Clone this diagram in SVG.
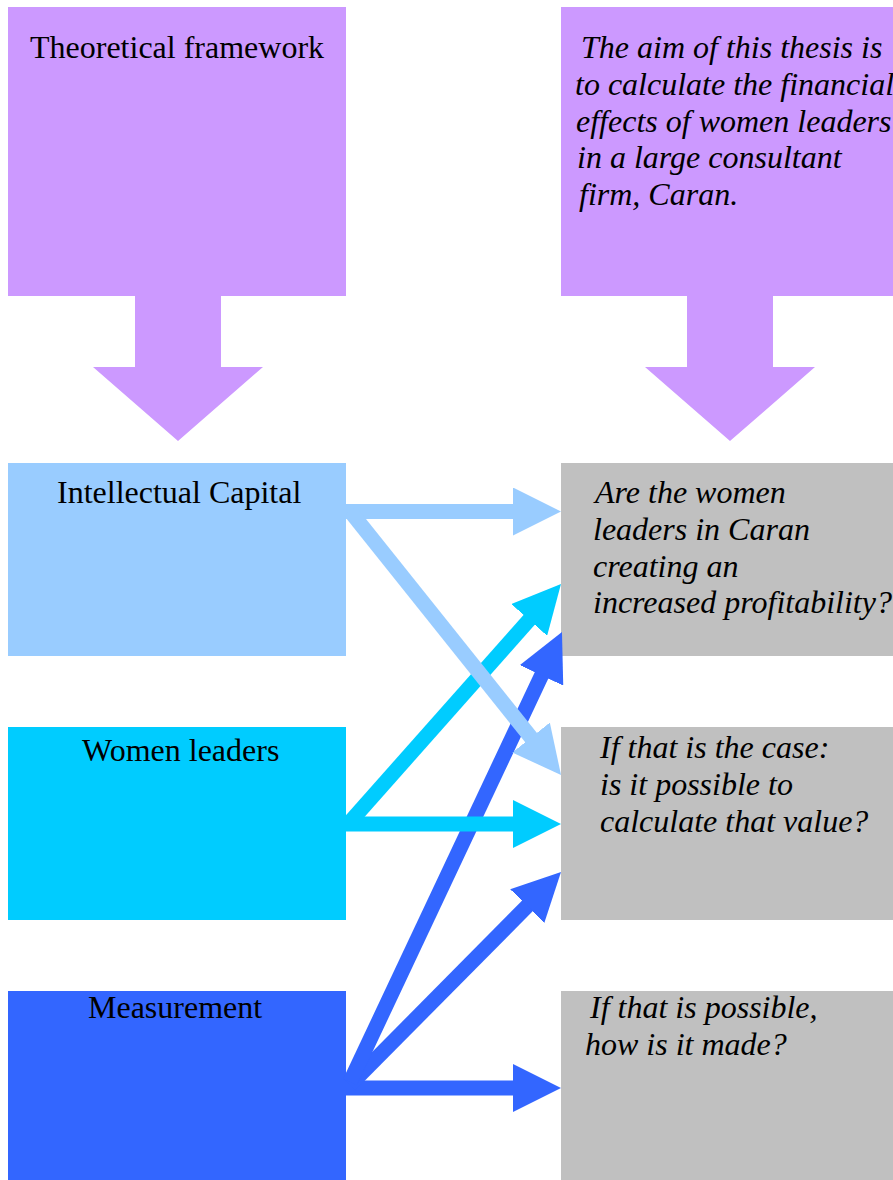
<svg xmlns="http://www.w3.org/2000/svg" width="893" height="1180" viewBox="0 0 893 1180">
  <style>
    .lbl { font-family: "Liberation Serif", "Times New Roman", serif; font-size: 32px; fill: #000; }
    .it { font-style: italic; }
    .purple { fill: #CC99FF; }
    .gray { fill: #C0C0C0; }
    .link { stroke-width: 15; fill: none; stroke-linecap: butt; }
  </style>
  <defs>
    <!-- triangular heads: 48 long, 48 wide; tip sits 30px past the line end -->
    <marker id="head-lb" markerUnits="userSpaceOnUse" markerWidth="48" markerHeight="48" viewBox="0 0 48 48" refX="18" refY="24" orient="auto">
      <path d="M0,0 L48,24 L0,48 Z" fill="#99CCFF"/>
    </marker>
    <marker id="head-cy" markerUnits="userSpaceOnUse" markerWidth="48" markerHeight="48" viewBox="0 0 48 48" refX="18" refY="24" orient="auto">
      <path d="M0,0 L48,24 L0,48 Z" fill="#00CCFF"/>
    </marker>
    <marker id="head-db" markerUnits="userSpaceOnUse" markerWidth="48" markerHeight="48" viewBox="0 0 48 48" refX="18" refY="24" orient="auto">
      <path d="M0,0 L48,24 L0,48 Z" fill="#3366FF"/>
    </marker>
  </defs>

  <rect width="893" height="1180" fill="#FFFFFF"/>

  <!-- top row: framework and aim, each with a block arrow pointing down -->
  <g id="theoretical-framework">
    <path class="purple" d="M8,7 H346 V296 H221 V367 H263 L178,441 L93,367 H135 V296 H8 Z"/>
    <text class="lbl" x="30" y="58">Theoretical framework</text>
  </g>

  <g id="thesis-aim">
    <path class="purple" d="M561,7 H893 V296 H773 V367 H815 L730,441 L645,367 H687 V296 H561 Z"/>
    <text class="lbl it" x="581" y="58">The aim of this thesis is</text>
    <text class="lbl it" x="575" y="95">to calculate the financial</text>
    <text class="lbl it" x="576" y="132">effects of women leaders</text>
    <text class="lbl it" x="577" y="168">in a large consultant</text>
    <text class="lbl it" x="579" y="205">firm, Caran.</text>
  </g>

  <!-- left column: inputs -->
  <g id="intellectual-capital">
    <rect x="8" y="463" width="338" height="193" fill="#99CCFF"/>
    <text class="lbl" x="57" y="503">Intellectual Capital</text>
  </g>

  <g id="women-leaders">
    <rect x="8" y="727" width="338" height="193" fill="#00CCFF"/>
    <text class="lbl" x="82" y="761">Women leaders</text>
  </g>

  <g id="measurement">
    <rect x="8" y="991" width="338" height="189" fill="#3366FF"/>
    <text class="lbl" x="88" y="1018">Measurement</text>
  </g>

  <!-- right column: research questions -->
  <g id="question-profitability">
    <rect class="gray" x="561" y="463" width="332" height="193"/>
    <text class="lbl it" x="595" y="503">Are the women</text>
    <text class="lbl it" x="593" y="540">leaders in Caran</text>
    <text class="lbl it" x="593" y="577">creating an</text>
    <text class="lbl it" x="593" y="613">increased profitability?</text>
  </g>

  <g id="question-value">
    <rect class="gray" x="561" y="727" width="332" height="193"/>
    <text class="lbl it" x="600" y="758">If that is the case:</text>
    <text class="lbl it" x="600" y="795">is it possible to</text>
    <text class="lbl it" x="600" y="832">calculate that value?</text>
  </g>

  <g id="question-method">
    <rect class="gray" x="561" y="991" width="332" height="189"/>
    <text class="lbl it" x="590" y="1018">If that is possible,</text>
    <text class="lbl it" x="585" y="1055">how is it made?</text>
  </g>

  <!-- connectors -->
  <g id="connectors">
    <!-- Measurement -->
    <line class="link" stroke="#3366FF" x1="346" y1="1088" x2="531" y2="1088" marker-end="url(#head-db)"/>
    <line class="link" stroke="#3366FF" x1="350" y1="1085" x2="539.9" y2="893.3" marker-end="url(#head-db)"/>
    <line class="link" stroke="#3366FF" x1="350" y1="1082" x2="549.2" y2="659.1" marker-end="url(#head-db)"/>
    <!-- Women leaders -->
    <line class="link" stroke="#00CCFF" x1="346" y1="824" x2="531" y2="824" marker-end="url(#head-cy)"/>
    <line class="link" stroke="#00CCFF" x1="350" y1="822" x2="541.1" y2="606.4" marker-end="url(#head-cy)"/>
    <!-- Intellectual Capital -->
    <line class="link" stroke="#99CCFF" x1="346" y1="511.5" x2="531" y2="511.5" marker-end="url(#head-lb)"/>
    <line class="link" stroke="#99CCFF" x1="350" y1="511" x2="542.3" y2="751.6" marker-end="url(#head-lb)"/>
  </g>
</svg>
